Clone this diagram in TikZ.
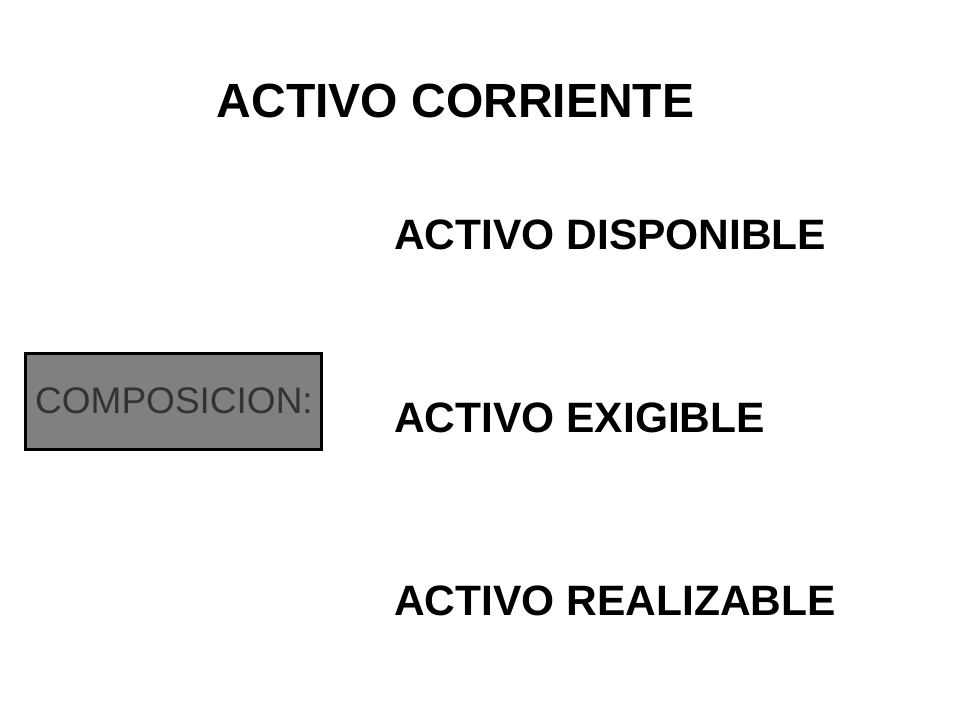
\documentclass[tikz,border=0pt]{standalone}
\usepackage{fontspec}
\setmainfont{Liberation Sans}
\begin{document}
\begin{tikzpicture}[x=1pt,y=-1pt,
 item/.style={anchor=west,font=\fontsize{42.5}{46}\selectfont\bfseries,inner sep=0pt}]
\useasboundingbox (0,0) rectangle (960,720);
\node[font=\fontsize{48}{52}\selectfont\bfseries,inner sep=0pt] (title) at (455.5,101) {ACTIVO CORRIENTE};
\node[item] (d) at (394,235) {ACTIVO DISPONIBLE};
\node[item] (e) at (394,418) {ACTIVO EXIGIBLE};
\node[item] (r) at (394,601) {ACTIVO REALIZABLE};
\draw[line width=3pt,fill=black!50] (25,353) rectangle (321,449);
\node[font=\fontsize{37}{40}\selectfont,text=black!80,inner sep=0pt] (c) at (174,401) {COMPOSICION:};
\end{tikzpicture}
\end{document}
